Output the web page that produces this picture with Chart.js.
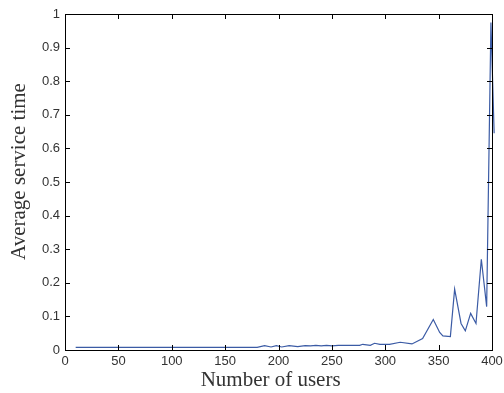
<!DOCTYPE html>
<html>
<head>
<meta charset="utf-8">
<script src="https://cdn.jsdelivr.net/npm/chart.js@4.4.1/dist/chart.umd.min.js"></script>
<style>
  body { margin: 0; background: #fff; }
  canvas { display: block; }
</style>
</head>
<body>
<canvas id="myChart" width="504" height="393"></canvas>
<script>
// values
const users = [10, 180, 187, 193, 198, 203, 210, 218, 225, 230, 235, 240, 245, 250, 256,
  265, 276, 279, 286, 290, 295, 304, 314, 325, 335, 345, 351, 354, 361, 365, 371,
  375, 380, 385, 390, 395, 399, 402];
const serviceTime = [0.008, 0.008, 0.013, 0.009, 0.013, 0.009, 0.013, 0.010, 0.013, 0.012,
  0.014, 0.012, 0.014, 0.012, 0.014, 0.014, 0.014, 0.017, 0.014, 0.020, 0.017, 0.017,
  0.023, 0.018, 0.034, 0.091, 0.052, 0.042, 0.040, 0.181, 0.079, 0.057, 0.109, 0.079,
  0.270, 0.129, 0.975, 0.645];
const xTicks = [0, 50, 100, 150, 200, 250, 300, 350, 400];
const yTicks = [0, 0.1, 0.2, 0.3, 0.4, 0.5, 0.6, 0.7, 0.8, 0.9, 1];

const buildPoints = () => {
  let pts = [];
  for (let i = 0; i < users.length; i++) {
    pts.push({ x: users[i], y: serviceTime[i] });
  }
  return pts;
};

// box round the plot + inward tick marks (matlab look)
const boxPlugin = {
  id: 'boxTicks',
  afterDraw(chart) {
    const ctx = chart.ctx;
    const a = chart.chartArea;
    const xs = chart.scales.x;
    const ys = chart.scales.y;
    const len = 5;
    ctx.save();
    ctx.strokeStyle = '#000';
    ctx.lineWidth = 1;
    ctx.beginPath();
    ctx.moveTo(a.left, a.top + 0.5);
    ctx.lineTo(a.right + 0.5, a.top + 0.5);
    ctx.lineTo(a.right + 0.5, a.bottom);
    xTicks.forEach(v => {
      const px = Math.round(xs.getPixelForValue(v)) + 0.5;
      ctx.moveTo(px, a.bottom);
      ctx.lineTo(px, a.bottom - len);
      ctx.moveTo(px, a.top);
      ctx.lineTo(px, a.top + len);
    });
    yTicks.forEach(v => {
      const py = Math.round(ys.getPixelForValue(v)) + 0.5;
      ctx.moveTo(a.left, py);
      ctx.lineTo(a.left + len, py);
      ctx.moveTo(a.right, py);
      ctx.lineTo(a.right - len, py);
    });
    ctx.stroke();
    ctx.restore();
  }
};

var ctx = document.getElementById('myChart').getContext('2d');
var myChart = new Chart(ctx, {
  type: 'line',
  data: {
    datasets: [{
      data: buildPoints(),
      borderColor: '#3b5ba5',
      borderWidth: 1.2,
      pointRadius: 0,
      fill: false,
      tension: 0,
      clip: { left: 0, top: 0, right: 6, bottom: 0 }
    }]
  },
  options: {
    responsive: false,
    animation: false,
    layout: { padding: { top: 14, right: 12, left: 0, bottom: 0 } },
    plugins: {
      legend: { display: false },
      tooltip: { enabled: false }
    },
    scales: {
      x: {
        type: 'linear',
        min: 0,
        max: 400,
        afterFit: (scale) => {
          scale.height = 43;
          scale.paddingLeft = 0;   // let the "400" label hang off the edge like the original
          scale.paddingRight = 0;
        },
        afterBuildTicks: (scale) => { scale.ticks = xTicks.map(v => ({ value: v })); },
        grid: { display: false, drawTicks: false },
        border: { display: true, color: '#000', width: 1 },
        ticks: {
          padding: 4,
          color: '#333',
          font: { family: 'Liberation Sans, Arial, sans-serif', size: 13 }
        },
        title: {
          display: true,
          text: 'Number of users   ',
          color: '#333',
          padding: { top: 0, bottom: 0 },
          font: { family: 'Liberation Serif, Times New Roman, serif', size: 21 }
        }
      },
      y: {
        min: 0,
        max: 1,
        afterFit: (scale) => { scale.width = 65; },
        afterBuildTicks: (scale) => { scale.ticks = yTicks.map(v => ({ value: v })); },
        grid: { display: false, drawTicks: false },
        border: { display: true, color: '#000', width: 1 },
        ticks: {
          padding: 5,
          color: '#333',
          font: { family: 'Liberation Sans, Arial, sans-serif', size: 13 },
          callback: (v) => String(Math.round(v * 10) / 10)
        },
        title: {
          display: true,
          text: '    Average service time',
          color: '#333',
          padding: { top: 7, bottom: 0 },
          font: { family: 'Liberation Serif, Times New Roman, serif', size: 21 }
        }
      }
    }
  },
  plugins: [boxPlugin]
});
</script>
</body>
</html>
